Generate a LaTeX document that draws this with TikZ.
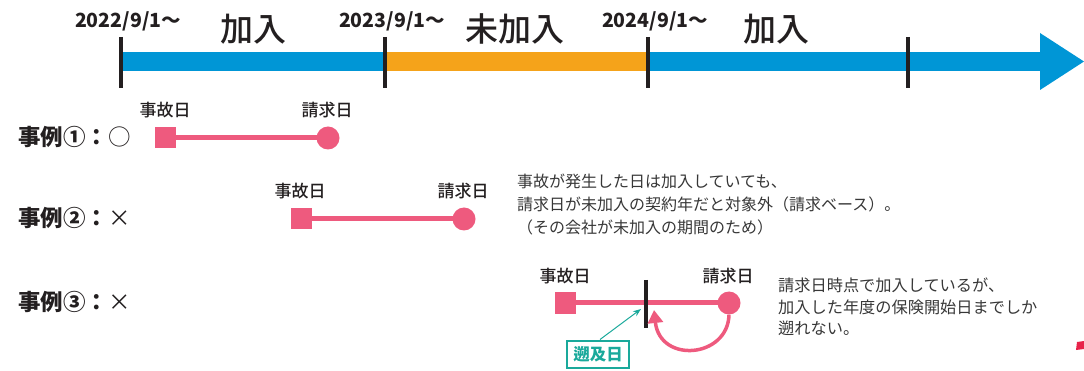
\documentclass[tikz,border=0pt]{standalone}
\usepackage{fontspec}
\setmainfont{Noto Sans CJK JP}
\newfontfamily\jpmed{Noto Sans CJK JP Medium}
\usetikzlibrary{arrows.meta}
\definecolor{barblue}{RGB}{0,150,214}
\definecolor{barorange}{RGB}{245,163,26}
\definecolor{evpink}{RGB}{238,90,126}
\definecolor{tealc}{RGB}{26,169,155}
\definecolor{ink}{RGB}{35,31,32}
\definecolor{txtgray}{RGB}{55,55,55}
\definecolor{fragred}{RGB}{232,35,74}
\begin{document}
\begin{tikzpicture}[x=1pt,y=-1pt,
  tickmark/.style={draw=ink,line width=4.5pt},
  datelbl/.style={font=\fontsize{19.5}{22}\selectfont\bfseries,text=ink,inner sep=0pt},
  periodlbl/.style={font=\fontsize{33}{35}\selectfont\jpmed,text=ink,inner sep=0pt},
  caselbl/.style={font=\fontsize{22.5}{24}\selectfont\bfseries,text=ink,inner sep=0pt,anchor=west},
  daylbl/.style={font=\fontsize{17}{19}\selectfont\jpmed,text=ink,inner sep=0pt},
  note/.style={font=\fontsize{16}{23}\selectfont,text=txtgray,inner sep=0pt,anchor=north west,align=left},
  accsq/.style={fill=evpink,minimum size=21pt,inner sep=0pt},
  clmdot/.style={circle,fill=evpink,minimum size=23pt,inner sep=0pt},
  span/.style={draw=evpink,line width=5pt},
]
\useasboundingbox (0,0) rectangle (1084,371);
% timeline
\fill[barblue] (121,52) rectangle (385,71);
\fill[barorange] (385,52) rectangle (648,71);
\fill[barblue] (648,52) rectangle (1041,71);
\fill[barblue] (1040,33) -- (1084,61.5) -- (1040,90) -- cycle;
\coordinate (t1a) at (121,37); \coordinate (t1b) at (121,88);
\coordinate (t2a) at (385,37); \coordinate (t2b) at (385,88);
\coordinate (t3a) at (648,37); \coordinate (t3b) at (648,88);
\coordinate (t4a) at (908,37); \coordinate (t4b) at (908,88);
\draw[tickmark] (t1a) -- (t1b);
\draw[tickmark] (t2a) -- (t2b);
\draw[tickmark] (t3a) -- (t3b);
\draw[tickmark] (t4a) -- (t4b);
\node[datelbl] (d1) at (128,21) {2022/9/1～};
\node[datelbl] (d2) at (392,21) {2023/9/1～};
\node[datelbl] (d3) at (655,21) {2024/9/1～};
\node[periodlbl] (p1) at (253,29) {加入};
\node[periodlbl] (p2) at (515,29) {未加入};
\node[periodlbl] (p3) at (776,29) {加入};
% case 1
\node[caselbl] (c1) at (18,137) {事例①：\textmd{○}};
\node[accsq] (a1) at (165,138) {};
\node[clmdot] (b1) at (328,138) {};
\draw[span] (a1.center) -- (b1.center);
\node[daylbl] (la1) at (165,110) {事故日};
\node[daylbl] (lb1) at (327,110) {請求日};
% case 2
\node[caselbl] (c2) at (18,218) {事例②：\textmd{×}};
\node[accsq] (a2) at (301,219) {};
\node[clmdot] (b2) at (464,219) {};
\draw[span] (a2.center) -- (b2.center);
\node[daylbl] (la2) at (300,191) {事故日};
\node[daylbl] (lb2) at (463,191) {請求日};
\node[note] (n2) at (517,174) {事故が発生した日は加入していても、\\請求日が未加入の契約年だと対象外（請求ベース）。\\（その会社が未加入の期間のため）};
% case 3
\node[caselbl] (c3) at (18,302) {事例③：\textmd{×}};
\node[accsq] (a3) at (565,303) {};
\node[clmdot] (b3) at (729,303) {};
\draw[span] (a3.center) -- (b3.center);
\node[daylbl] (la3) at (565,276) {事故日};
\node[daylbl] (lb3) at (728,276) {請求日};
\coordinate (r3a) at (646,280); \coordinate (r3b) at (646,328);
\draw[draw=ink,line width=3.5pt] (r3a) -- (r3b);
\node[note,font=\fontsize{16.2}{21.5}\selectfont] (n3) at (778,278) {請求日時点で加入しているが、\\加入した年度の保険開始日までしか\\遡れない。};
\node[draw=tealc,line width=2pt,text=tealc,font=\fontsize{16.5}{18}\selectfont\bfseries,minimum width=62pt,minimum height=27pt,inner sep=0pt] (sk) at (598,354) {遡及日};
\coordinate (skt) at (641,309);
\draw[tealc,line width=1pt,-{Stealth[length=8pt,width=6pt]}] (sk.north) ++(2,0) -- (skt);
\draw[evpink,line width=3.5pt,-{Triangle[length=13pt,width=15pt]}] (b3.south) .. controls (728,358) and (660,364) .. (654,310);
% fragment at edge
\fill[fragred] (1077,342) -- (1084,341) -- (1084,349) -- (1076,350) -- cycle;
\end{tikzpicture}
\end{document}
